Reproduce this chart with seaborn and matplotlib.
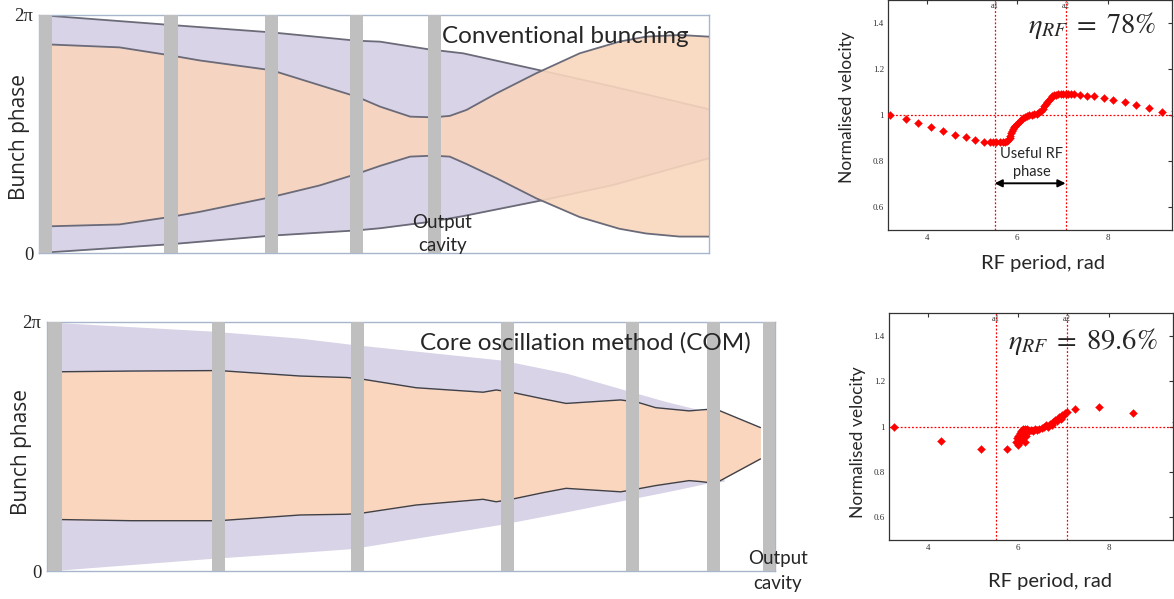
import numpy as np
import matplotlib
matplotlib.use("Agg")
import matplotlib.pyplot as plt
import seaborn as sns
import pandas as pd

# ---------------------------------------------------------------------------
# Bunch envelopes along the tube (x: fraction of tube length,
# phase: fraction of one RF period, 0 .. 2π)
# ---------------------------------------------------------------------------
conv_cavities = [0.010, 0.197, 0.347, 0.474, 0.590]
conv_outer_x = [0.0, 0.197, 0.347, 0.474, 0.509, 0.581, 0.633, 0.752, 0.857, 1.0]
conv_outer_top = [1.0, 0.958, 0.927, 0.892, 0.888, 0.856, 0.839, 0.765, 0.699, 0.604]
conv_outer_bot = [0.0, 0.037, 0.073, 0.095, 0.104, 0.130, 0.155, 0.222, 0.286, 0.398]
conv_inner_x = [0.0, 0.12, 0.197, 0.240, 0.347, 0.419, 0.474, 0.509, 0.554, 0.588,
                0.613, 0.638, 0.683, 0.742, 0.807, 0.866, 0.906, 0.956, 1.0]
conv_inner_top = [0.878, 0.864, 0.830, 0.809, 0.768, 0.705, 0.657, 0.615, 0.573,
                  0.570, 0.576, 0.601, 0.671, 0.755, 0.839, 0.888, 0.909, 0.916, 0.909]
conv_inner_bot = [0.111, 0.120, 0.152, 0.173, 0.235, 0.284, 0.332, 0.366, 0.405,
                  0.409, 0.405, 0.374, 0.314, 0.230, 0.151, 0.102, 0.082, 0.069, 0.069]

com_cavities = [0.011, 0.236, 0.427, 0.633, 0.804, 0.915, 0.992]
com_outer_x = [0.0, 0.223, 0.348, 0.419, 0.625, 0.714, 0.794, 0.851, 0.906, 0.930]
com_outer_top = [1.0, 0.964, 0.935, 0.910, 0.847, 0.794, 0.727, 0.680, 0.640, 0.630]
com_outer_bot = [0.0, 0.050, 0.075, 0.090, 0.188, 0.238, 0.285, 0.318, 0.352, 0.360]
com_inner_x = [0.011, 0.115, 0.236, 0.348, 0.412, 0.432, 0.507, 0.599, 0.617, 0.638,
               0.682, 0.713, 0.788, 0.812, 0.836, 0.882, 0.898, 0.918, 0.980]
com_inner_top = [0.800, 0.803, 0.805, 0.783, 0.777, 0.771, 0.736, 0.718, 0.727, 0.718,
                 0.691, 0.673, 0.687, 0.677, 0.656, 0.643, 0.647, 0.651, 0.576]
com_inner_bot = [0.207, 0.202, 0.202, 0.225, 0.228, 0.232, 0.265, 0.288, 0.278, 0.288,
                 0.315, 0.332, 0.318, 0.330, 0.343, 0.363, 0.359, 0.352, 0.450]

# ---------------------------------------------------------------------------
# Normalised electron velocity vs RF phase at the output cavity
# ---------------------------------------------------------------------------
conv_phase = [3.19, 3.53, 3.80, 4.09, 4.36, 4.63, 4.86, 5.06, 5.26, 5.40, 5.47,
              5.54, 5.61, 5.68, 5.73, 5.77, 5.80, 5.83, 5.85, 5.87, 5.88, 5.90,
              5.93, 5.96, 6.00, 6.04, 6.09, 6.13, 6.17, 6.22, 6.27, 6.32, 6.38,
              6.43, 6.49, 6.52, 6.56, 6.60, 6.63, 6.67, 6.71, 6.74, 6.78, 6.82,
              6.85, 6.90, 6.96, 7.02, 7.07, 7.13, 7.18, 7.26, 7.40, 7.54, 7.70,
              7.91, 8.12, 8.38, 8.63, 8.91, 9.20]
conv_velocity = [1.000, 0.983, 0.964, 0.946, 0.932, 0.913, 0.903, 0.893, 0.884,
                 0.881, 0.881, 0.881, 0.881, 0.882, 0.884, 0.888, 0.893, 0.902,
                 0.910, 0.921, 0.930, 0.938, 0.946, 0.953, 0.961, 0.969, 0.978,
                 0.985, 0.992, 0.997, 1.000, 1.002, 1.004, 1.006, 1.011, 1.017,
                 1.026, 1.037, 1.048, 1.057, 1.067, 1.074, 1.081, 1.085, 1.088,
                 1.090, 1.091, 1.092, 1.092, 1.092, 1.092, 1.092, 1.088, 1.084,
                 1.081, 1.072, 1.067, 1.058, 1.045, 1.030, 1.014]

com_phase = [3.26, 4.29, 5.17, 5.76, 5.95, 5.97, 5.99, 6.00, 6.02, 6.03, 6.05,
             6.07, 6.08, 6.10, 6.12, 6.14, 6.15, 6.18, 6.20, 6.24, 6.28, 6.33,
             6.38, 6.42, 6.47, 6.52, 6.57, 6.62, 6.66, 6.70, 6.74, 6.78, 6.82,
             6.86, 6.90, 6.94, 6.97, 7.00, 7.04, 7.07, 7.26, 7.78, 8.55]
com_velocity = [1.000, 0.936, 0.899, 0.899, 0.930, 0.950, 0.920, 0.960, 0.940,
                0.970, 0.930, 0.980, 0.950, 0.990, 0.970, 0.930, 0.990, 0.960,
                0.990, 0.980, 0.985, 0.980, 0.990, 0.985, 0.990, 0.995, 1.000,
                1.005, 1.000, 1.010, 1.005, 1.020, 1.030, 1.025, 1.040, 1.035,
                1.050, 1.045, 1.060, 1.065, 1.075, 1.085, 1.058]

a1, a2 = 5.50, 7.07          # limits of the useful RF phase window
phase_lim = (3.1416, 9.4248)  # π .. 3π
eta_conv, eta_com = "78%", "89.6%"

# ---------------------------------------------------------------------------
sns.set_style("white")
plt.rcParams["font.family"] = ["Lato", "DejaVu Sans"]
plt.rcParams["mathtext.fontset"] = "stix"

PURPLE = "#D8D3E6"
PEACH = "#F9D6BD"
CAVITY = "#BFBFBF"
EDGE = "#6A6A78"
FRAME = "#A8B6CC"
SERIF = "Liberation Serif"

W, H = 1174, 599
fig = plt.figure(figsize=(W / 100, H / 100), dpi=100)


def px_axes(left, top, right, bottom):
    return fig.add_axes([left / W, 1 - bottom / H, (right - left) / W,
                         (bottom - top) / H])


def envelope_frame(ax):
    ax.set_xlim(0, 1)
    ax.set_ylim(0, 1)
    ax.set_xticks([])
    ax.set_yticks([0, 1])
    ax.set_yticklabels(["0", "2π"], family=SERIF, fontsize=13.5)
    ax.tick_params(axis="y", length=0, pad=4)
    for s in ax.spines.values():
        s.set_color(FRAME)
        s.set_linewidth(1.0)
    ax.patch.set_alpha(0)


# ---- conventional bunching ----
ax_tl = px_axes(39, 15, 709, 253)
ax_tl.fill_between(conv_outer_x, conv_outer_bot, conv_outer_top, color=PURPLE,
                   lw=0, zorder=1)
ax_tl.plot(conv_outer_x, conv_outer_top, color=EDGE, lw=1.3, zorder=1.5)
ax_tl.plot(conv_outer_x, conv_outer_bot, color=EDGE, lw=1.3, zorder=1.5)
ax_tl.fill_between(conv_inner_x, conv_inner_bot, conv_inner_top, color=PEACH,
                   lw=0, alpha=0.9, zorder=2)
ax_tl.plot(conv_inner_x, conv_inner_top, color=EDGE, lw=1.3, zorder=3)
ax_tl.plot(conv_inner_x, conv_inner_bot, color=EDGE, lw=1.3, zorder=3)
ax_tl.bar(conv_cavities, 1.0, width=0.0195, bottom=0, color=CAVITY, lw=0,
          zorder=4)
envelope_frame(ax_tl)
ax_tl.text(0.786, 0.910, "Conventional bunching", fontsize=17.5, ha="center",
           va="center", zorder=6)
ax_tl.text(0.602, 0.080, "Output\ncavity", fontsize=13.5, ha="center",
           va="center", linespacing=1.4, zorder=6)

# ---- core oscillation method ----
ax_bl = px_axes(47, 322, 775, 571)
ax_bl.fill_between(com_outer_x, com_outer_bot, com_outer_top, color=PURPLE,
                   lw=0, zorder=1)
ax_bl.fill_between(com_inner_x, com_inner_bot, com_inner_top, color=PEACH,
                   lw=0, zorder=2)
ax_bl.plot(com_inner_x, com_inner_top, color="#404048", lw=1.0, zorder=3)
ax_bl.plot(com_inner_x, com_inner_bot, color="#404048", lw=1.0, zorder=3)
ax_bl.bar(com_cavities, 1.0, width=0.018, bottom=0, color=CAVITY, lw=0,
          zorder=4)
envelope_frame(ax_bl)
ax_bl.text(0.739, 0.915, "Core oscillation method (COM)", fontsize=17.5,
           ha="center", va="center", zorder=6)
ax_bl.text(1.004, 0.0, "Output\ncavity", fontsize=13.5, ha="center",
           va="center", linespacing=1.55, zorder=6, clip_on=False)

fig.text(20 / W, 1 - 137 / H, "Bunch phase", rotation=90, ha="center",
         va="center", fontsize=15, family=["Open Sans", "DejaVu Sans"])
fig.text(22 / W, 1 - 452 / H, "Bunch phase", rotation=90, ha="center",
         va="center", fontsize=15, family=["Open Sans", "DejaVu Sans"])


# ---- velocity scatter panels ----
def velocity_panel(ax, phase, vel, eta, eta_xy, useful=False):
    df = pd.DataFrame({"phase": phase, "velocity": vel})
    ax.axvline(a1, color="red", ls=(0, (1.5, 1.5)), lw=0.9, zorder=1)
    ax.axvline(a2, color="red", ls=(0, (1.5, 1.5)), lw=0.9, zorder=1)
    ax.axhline(1.0, color="red", ls=(0, (1.5, 1.5)), lw=0.9, zorder=1)
    sns.scatterplot(data=df, x="phase", y="velocity", ax=ax, marker="D",
                    s=16, color="red", edgecolor="red", linewidth=0.3,
                    zorder=3, legend=False)
    ax.set_xlim(*phase_lim)
    ax.set_ylim(0.5, 1.5)
    ax.set_xticks([4, 6, 8])
    ax.set_yticks([0.6, 0.8, 1.0, 1.2, 1.4])
    ax.set_yticklabels(["0.6", "0.8", "1", "1.2", "1.4"])
    ax.tick_params(direction="in", length=3, width=0.8, top=True, right=True,
                   labelsize=6.5, pad=3, colors="#333333")
    for lab in ax.get_xticklabels() + ax.get_yticklabels():
        lab.set_family(SERIF)
    ax.set_xlabel("")
    ax.set_ylabel("")
    for s in ax.spines.values():
        s.set_color("#333333")
        s.set_linewidth(0.9)
    for xa, name in ((a1, "a1"), (a2, "a2")):
        ax.text(xa, 1.493, name, family=SERIF, fontsize=6, ha="center",
                va="top", color="#333333")
    ax.text(9.42, 1.0, "1", family=SERIF, fontsize=6.5, ha="center",
            va="center", color="#333333", clip_on=False)
    ax.text(*eta_xy, r"$\eta_{RF}\;=\;%s$" % eta.replace("%", r"\%"),
            fontsize=20.5, ha="center", va="center")
    if useful:
        ax.annotate("", xy=(a1, 0.703), xytext=(a2, 0.703),
                    arrowprops=dict(arrowstyle="<|-|>", color="black", lw=1.4,
                                    mutation_scale=11, shrinkA=0, shrinkB=0))
        ax.text(6.32, 0.79, "Useful RF\nphase", fontsize=10.5, ha="center",
                va="center", linespacing=1.35)


ax_tr = px_axes(888, 0, 1172, 230)
velocity_panel(ax_tr, conv_phase, conv_velocity, eta_conv, (7.65, 1.39),
               useful=True)
ax_br = px_axes(889, 313, 1173, 540)
velocity_panel(ax_br, com_phase, com_velocity, eta_com, (7.43, 1.375))

fig.text(847 / W, 1 - 107 / H, "Normalised velocity", rotation=90,
         ha="center", va="center", fontsize=12.5)
fig.text(1043 / W, 1 - 263 / H, "RF period, rad", ha="center", va="center",
         fontsize=14.5)
fig.text(858 / W, 1 - 442 / H, "Normalised velocity", rotation=90,
         ha="center", va="center", fontsize=12.5)
fig.text(1050 / W, 1 - 582 / H, "RF period, rad", ha="center", va="center",
         fontsize=14.5)

fig.savefig("out.png", dpi=100, facecolor="white")
